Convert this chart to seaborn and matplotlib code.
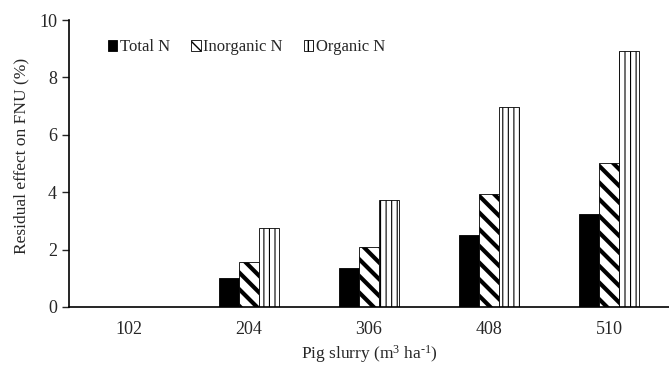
import matplotlib
matplotlib.use("Agg")
import matplotlib.pyplot as plt
import seaborn as sns
import pandas as pd
from matplotlib.patches import Patch

categories = ["102", "204", "306", "408", "510"]
total_n = [0.0, 1.01, 1.36, 2.51, 3.24]
inorganic_n = [0.0, 1.57, 2.09, 3.94, 5.02]
organic_n = [0.0, 2.75, 3.73, 6.97, 8.92]
series = ["Total N", "Inorganic N", "Organic N"]

rows = []
for name, vals in zip(series, [total_n, inorganic_n, organic_n]):
    for c, v in zip(categories, vals):
        rows.append({"slurry": c, "value": v, "series": name})
df = pd.DataFrame(rows)

sns.set_style("ticks")
plt.rcParams["font.family"] = ["Liberation Serif", "DejaVu Serif"]
plt.rcParams["mathtext.fontset"] = "custom"
plt.rcParams["mathtext.rm"] = "Liberation Serif"
plt.rcParams["mathtext.it"] = "Liberation Serif:italic"
plt.rcParams["mathtext.bf"] = "Liberation Serif:bold"
plt.rcParams["hatch.color"] = "black"

fig = plt.figure(figsize=(6.69, 3.65), dpi=100)
ax = fig.add_axes([0.103, 0.159, 0.897, 0.786])

styles = {
    "Total N": dict(face="black", hatch=None, hlw=1.0),
    "Inorganic N": dict(face="white", hatch="\\\\", hlw=3.0),
    "Organic N": dict(face="white", hatch="|||", hlw=0.8),
}

sns.barplot(data=df, x="slurry", y="value", hue="series", order=categories,
            hue_order=series, palette=["black", "white", "white"],
            width=0.5, gap=0, saturation=1, edgecolor="black", linewidth=0.6,
            ax=ax, legend=False)

for cont, name in zip(ax.containers, series):
    st = styles[name]
    for p in cont:
        p.set_facecolor(st["face"])
        p.set_edgecolor("black")
        if st["hatch"]:
            p.set_hatch(st["hatch"])
            if hasattr(p, "set_hatch_linewidth"):
                p.set_hatch_linewidth(st["hlw"])

handles = []
for name in series:
    st = styles[name]
    h = Patch(facecolor=st["face"], edgecolor="black", linewidth=0.6,
              hatch=st["hatch"], label=name)
    if st["hatch"] and hasattr(h, "set_hatch_linewidth"):
        h.set_hatch_linewidth(1.5)
    handles.append(h)
ax.legend(handles=handles, loc="upper left", bbox_to_anchor=(0.04, 0.985),
          ncol=3, frameon=False, handlelength=0.55, handleheight=0.6,
          handletextpad=0.15, columnspacing=1.3, fontsize=12)

ax.set_ylim(0, 10)
ax.set_xlim(-0.5, 4.5)
ax.set_yticks([0, 2, 4, 6, 8, 10])
ax.tick_params(axis="y", labelsize=13, length=5, width=1, direction="out")
ax.tick_params(axis="x", labelsize=13, length=0, pad=10)
ax.set_ylabel("Residual effect on FNU (%)", fontsize=12.5)
ax.yaxis.set_label_coords(-0.066, 0.525)
ax.set_xlabel(r"Pig slurry (m$^{\text{3}}$ ha$^{\text{-1}}$)", fontsize=12.5, labelpad=4)
for s in ["top", "right"]:
    ax.spines[s].set_visible(False)
for s in ["left", "bottom"]:
    ax.spines[s].set_linewidth(1.2)
    ax.spines[s].set_color("black")

fig.savefig("out.png", dpi=100)
